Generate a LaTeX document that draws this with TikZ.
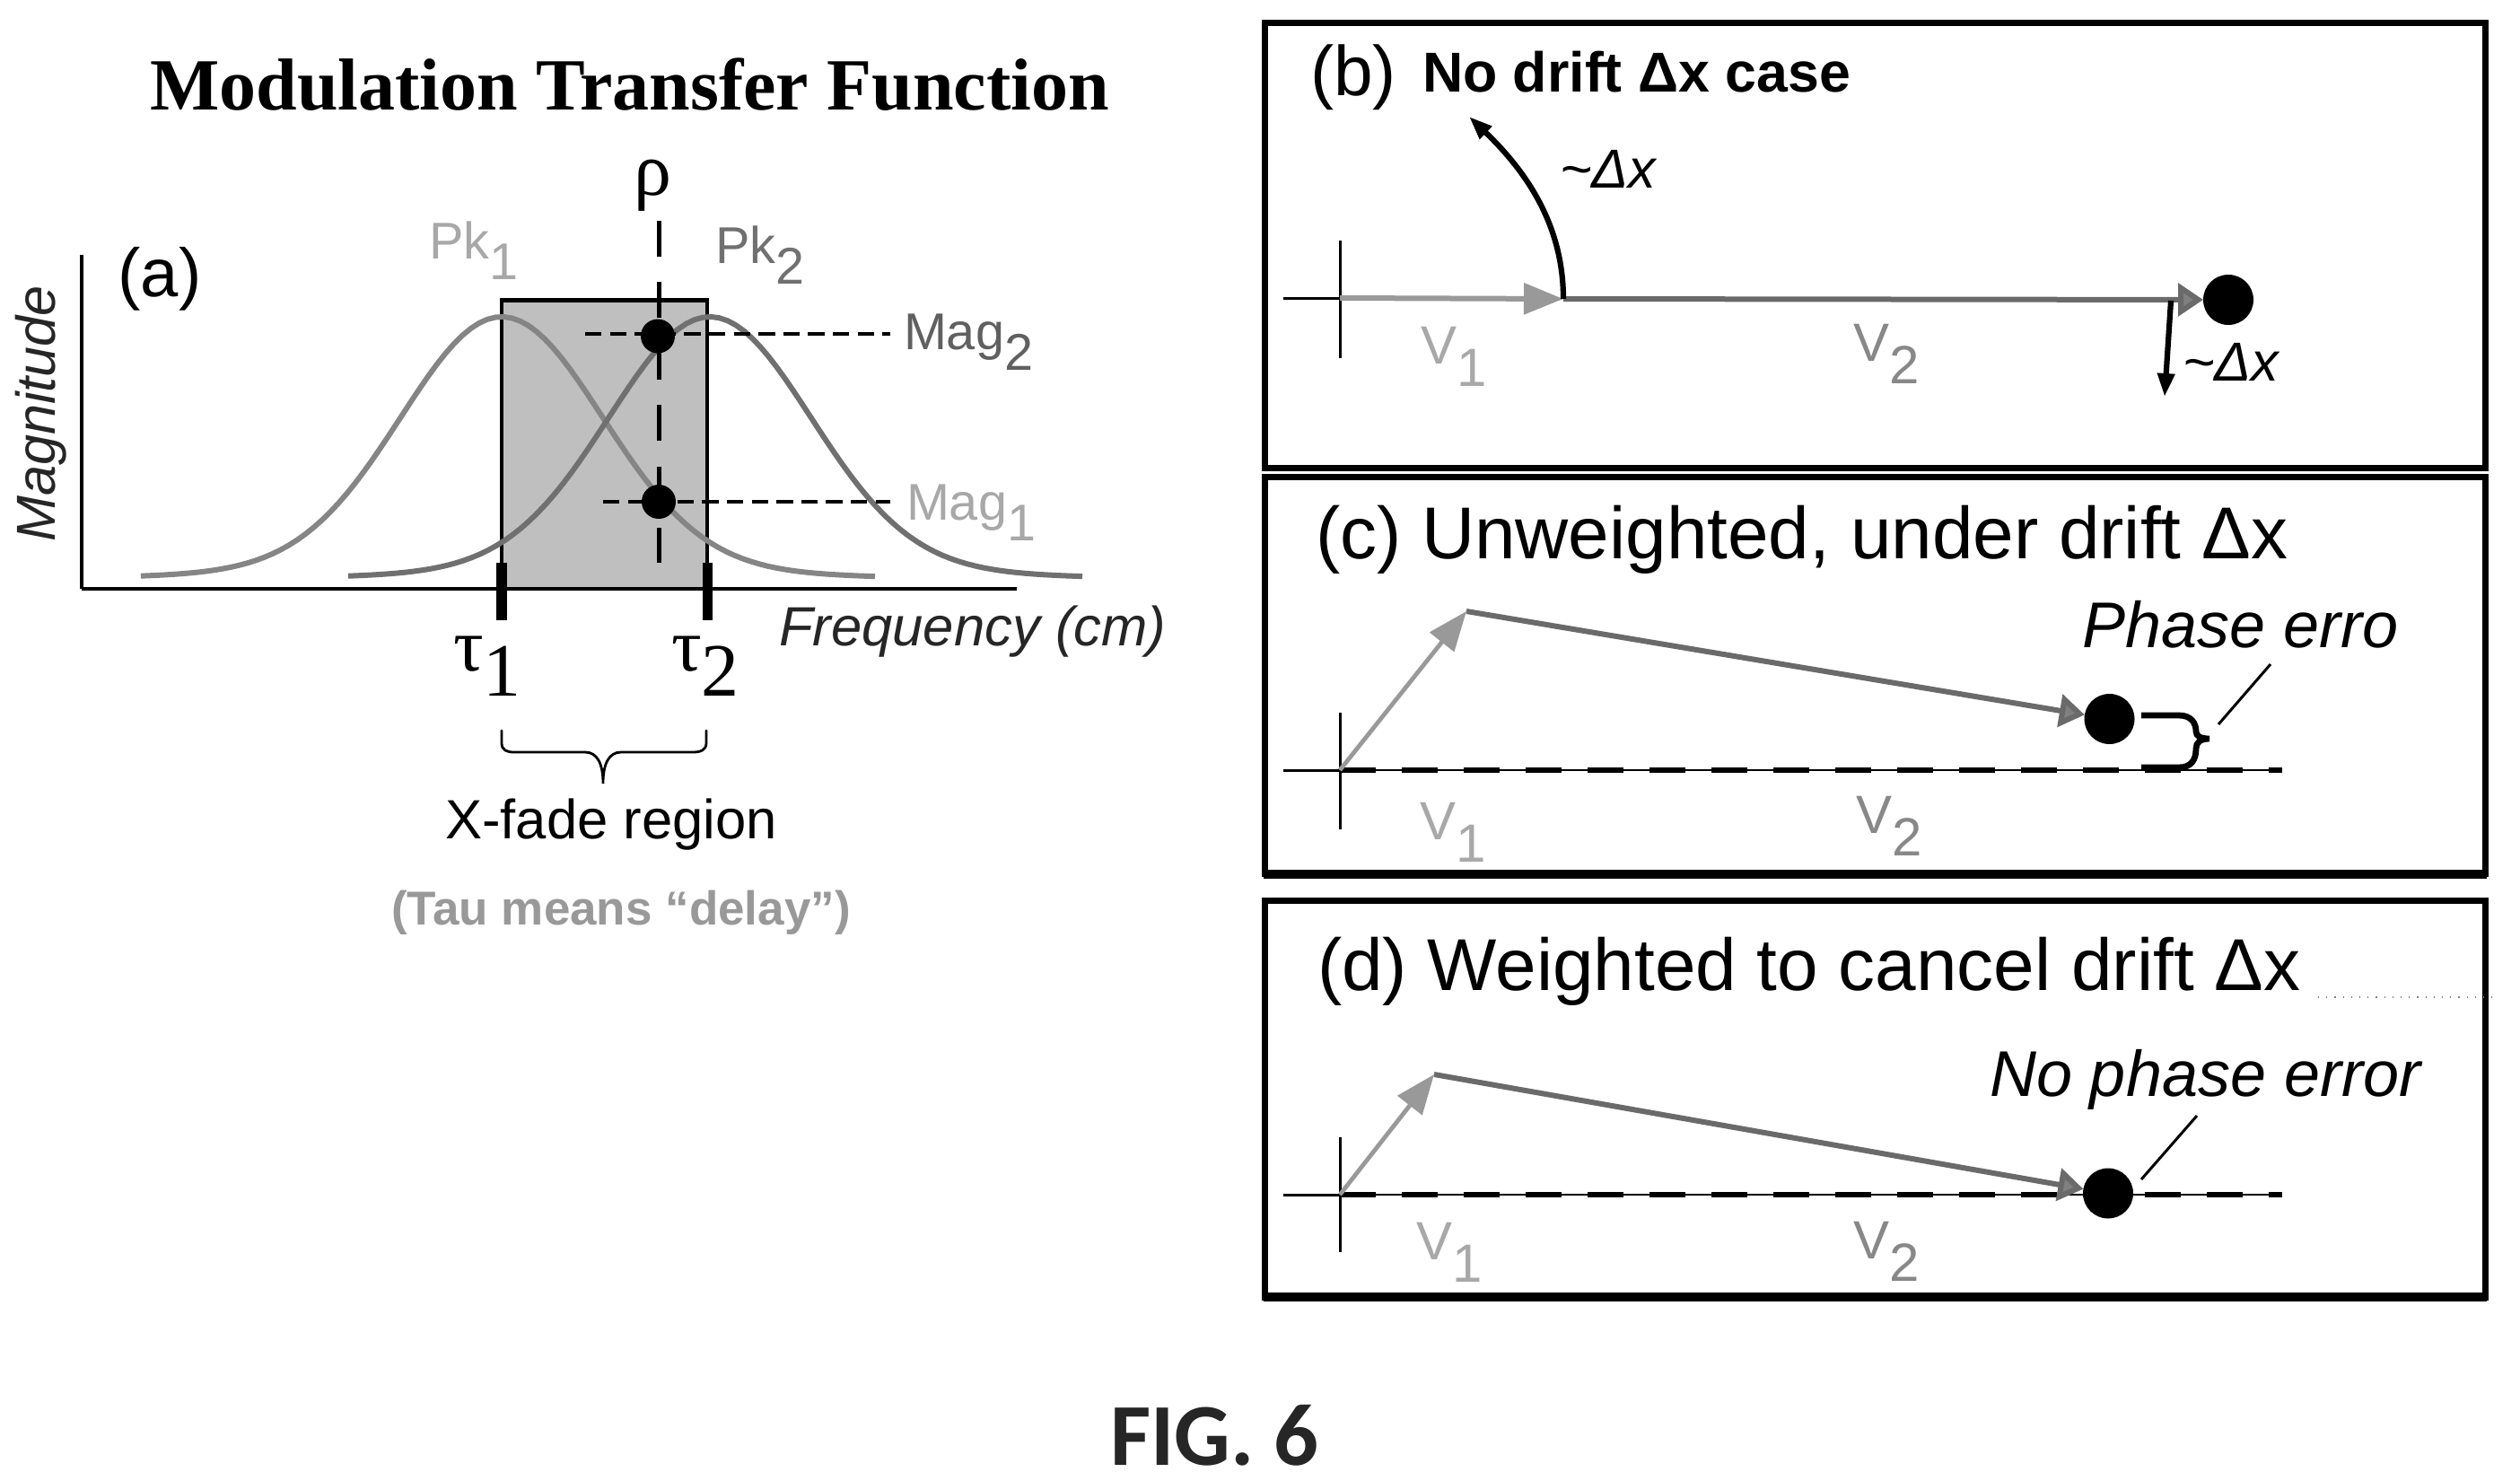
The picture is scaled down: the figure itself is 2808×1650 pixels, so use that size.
\documentclass[tikz,border=0pt]{standalone}
\usepackage{fontspec}
\setmainfont{Liberation Sans}
\newfontfamily\timesf{Liberation Serif}
\newfontfamily\calibf{Carlito}
\usetikzlibrary{arrows.meta}
\newcommand{\fsz}[1]{\fontsize{#1}{#1}\selectfont}
\newcommand{\dropped}[1]{\raisebox{-5.8pt}{#1}}
\newcommand{\droppedv}[1]{\raisebox{-6.4pt}{#1}}
\definecolor{gA}{HTML}{A8A8A8}
\definecolor{gB}{HTML}{707070}
\definecolor{gC}{HTML}{606060}
\definecolor{vOne}{HTML}{999999}
\definecolor{vTwo}{HTML}{6A6A6A}
\tikzset{
 lab/.style={inner sep=0pt,outer sep=0pt,anchor=base west},
 mid/.style={inner sep=0pt,outer sep=0pt,anchor=center},
 small/.style={lab,font=\fsz{14.4}},
 vee/.style={lab,font=\fsz{15},text=gA},
 veeb/.style={lab,font=\fsz{15},text=vTwo!80},
 panel/.style={draw=black,line width=1.75pt},
 panelfoot/.style={draw=black,line width=2.5pt},
 head/.style={lab,font=\fsz{20.47}},
 note/.style={lab,font=\itshape\fsz{18}},
 dx/.style={lab,font=\itshape\fsz{15.3}},
 dot/.style={circle,fill=black,inner sep=0pt,outer sep=0pt,minimum size=#1},
 thinblack/.style={draw=black,line width=.75pt},
 vecA/.style={draw=vOne,line width=1.5pt,-{Triangle[length=11pt,width=8.5pt,fill=vOne]}},
 vecAthin/.style={draw=vOne,line width=1.2pt,-{Triangle[length=11pt,width=8.5pt,fill=vOne]}},
 vecB/.style={draw=vTwo,line width=1.5pt,-{Triangle[length=7pt,width=9pt,fill=vTwo!85]}},
 bell/.style={draw=gB,line width=1.5pt,line join=round},
 hdash/.style={draw=black,line width=1pt,dash pattern=on 4.6pt off 2.3pt},
 base/.style={draw=black,line width=.3pt},
 bdash/.style={draw=black,line width=1.3pt,dash pattern=on 10pt off 7.25pt},
 blk/.style={draw=black,line width=1.55pt,-{Triangle[length=6.5pt,width=4.6pt]}},
}
\begin{document}
\begin{tikzpicture}[x=.25pt,y=-.25pt]
\useasboundingbox (0,0) rectangle (2808,1650);
% ---------- panel (a)
\node[lab,font=\timesf\bfseries\fsz{20.5}] (title) at (167,122) {Modulation Transfer Function};
\fill[fill=black!25] (559,334.5) rectangle (788,656);
\draw[draw=black,line width=1.1pt] (559,656) -- (559,334.5) -- (788,334.5) -- (788,656);
\draw[bell,draw=gB!85] plot[domain=-402:416,samples=90] ({559+\x},{645-292*(.95*exp(-(\x/100)*(\x/100)/2.5)+.05*exp(-(\x/100)*(\x/100)/10))});
\draw[bell] plot[domain=-403:415,samples=90] ({791+\x},{645-292*(.95*exp(-(\x/100)*(\x/100)/2.5)+.05*exp(-(\x/100)*(\x/100)/10))});
\coordinate (ytop) at (91,284);
\coordinate (org) at (91,656);
\coordinate (xend) at (1133,656);
\draw[draw=black,line width=.8pt] (ytop) -- (org);
\draw[draw=black,line width=1.2pt] (org) -- (xend);
\coordinate (tauA) at (559,627); \coordinate (tauAb) at (559,691);
\coordinate (tauB) at (788.5,627); \coordinate (tauBb) at (788.5,691);
\draw[line width=2.9pt] (tauA) -- (tauAb);
\draw[line width=2.9pt] (tauB) -- (tauBb);
\node[dot=9.5pt] (magBdot) at (733,374.5) {};
\node[dot=9.5pt] (magAdot) at (734,559) {};
\coordinate (rhoTop) at (734,246); \coordinate (rhoBot) at (734,627);
\draw[draw=black,line width=1.25pt,dash pattern=on 10pt off 7.1pt] (rhoTop) -- (rhoBot);
\coordinate (mBl) at (652,372); \coordinate (mBr) at (992,372);
\coordinate (mAl) at (672,559); \coordinate (mAr) at (992,559);
\draw[hdash] (mBl) -- (mBr);
\draw[hdash,line width=1.2pt] (mAl) -- (mAr);
\node[mid,font=\timesf\fsz{21}] (rho) at (727,207) {ρ};
\node[mid,font=\fsz{19}] (la) at (178,311) {(a)};
\node[mid,rotate=90,font=\itshape\fsz{15.3},text=black!85] (maglab) at (46,461) {Magnitude};
\node[small,text=gA] (pkA) at (478,288) {Pk\dropped{1}};
\node[small,text=gB] (pkB) at (797,293) {Pk\dropped{2}};
\node[small,text=gC] (magB) at (1007,389) {Mag\dropped{2}};
\node[small,text=gA] (magA) at (1010,579) {Mag\dropped{1}};
\node[lab,font=\itshape\fsz{15.4},text=black!85] (freq) at (868,719) {Frequency (cm)};
\node[lab,font=\timesf\fsz{21}] (tA) at (505,747) {τ\raisebox{-7pt}{1}};
\node[lab,font=\timesf\fsz{21}] (tB) at (748,747) {τ\raisebox{-7pt}{2}};
\draw[draw=black,line width=.7pt,line cap=round] (559,814) -- (559,828) .. controls (559,836) and (565,838) .. (573,838)
 -- (652,838) .. controls (665,838) and (672,850) .. (672,873)
 .. controls (672,850) and (679,838) .. (692,838) -- (772,838) .. controls (780,838) and (787,836) .. (787,828) -- (787,814);
\node[mid,font=\fsz{15.4}] (xfade) at (681,919) {X-fade region};
\node[mid,font=\bfseries\fsz{13.25},text=black!40] (taum) at (692,1017) {(Tau means “delay”)};
% ---------- panel (b)
\draw[panel] (1409.5,25) rectangle (2769,521);
\node[mid,font=\fsz{19.6}] (lb) at (1508,86) {(b)};
\node[lab,font=\bfseries\fsz{15.67}] (bh) at (1585,102) {No drift Δx case};
\coordinate (bO) at (1493,332);
\coordinate (bL) at (1430,332); \coordinate (bT) at (1493,268); \coordinate (bB) at (1493,399);
\draw[thinblack] (bL) -- (bO); \draw[thinblack] (bT) -- (bB);
\coordinate (bA) at (1742,333);
\node[dot=14pt] (bD) at (2483,334) {};
\draw[vecA] (bO) -- (bA);
\draw[vecB] (bA) -- (bD);
\coordinate (bC) at (1637,130);
\draw[blk] (bA) .. controls (1742,255) and (1705,195) .. (bC);
\coordinate (bS) at (2419,335); \coordinate (bE) at (2412,442);
\draw[blk] (bS) -- (bE);
\node[dx] (dxA) at (1738,209) {\textasciitilde Δx};
\node[dx] (dxB) at (2432,424) {\textasciitilde Δx};
\node[vee] (bv1) at (1583,405) {V\droppedv{1}};
\node[veeb] (bv2) at (2065,402) {V\droppedv{2}};
% ---------- panel (c)
\draw[panel] (1409.5,531.5) rectangle (2769,973.5);
\draw[panelfoot] (1408,973.5) -- (2771,973.5);
\node[head] (ch) at (1466,622) {(c) Unweighted, under drift Δx};
\coordinate (cO) at (1493,858);
\coordinate (cL) at (1430,858); \coordinate (cR) at (2543,858); \coordinate (cT) at (1493,794); \coordinate (cB) at (1493,924);
\draw[thinblack] (cT) -- (cB);
\draw[thinblack] (cL) -- (cO);
\draw[base] (cO) -- (cR);
\draw[bdash] (cO) -- (cR);
\coordinate (cA) at (1634,681);
\node[dot=14pt] (cD) at (2350.5,801) {};
\draw[vecAthin] (cO) -- (cA);
\draw[vecB] (cA) -- (cD);
\draw[draw=black,line width=1.7pt] (2386,797) -- (2428,797) .. controls (2442,797) and (2447,806) .. (2447,815)
 .. controls (2447,820) and (2452,823) .. (2462,823)
 .. controls (2452,823) and (2447,827) .. (2447,834) .. controls (2447,846) and (2442,855) .. (2428,855) -- (2386,855);
\node[note] (cn) at (2320,721) {Phase erro};
\coordinate (cla) at (2530,740); \coordinate (clb) at (2472,807);
\draw[thinblack] (cla) -- (clb);
\node[vee] (cv1) at (1582,935) {V\droppedv{1}};
\node[veeb] (cv2) at (2068,928) {V\droppedv{2}};
% ---------- panel (d)
\draw[panel] (1409.5,1003) rectangle (2769,1445);
\draw[panelfoot,line width=2.6pt] (1408,1445) -- (2771,1445);
\node[head] (dh) at (1468,1103) {(d) Weighted to cancel drift Δx};
\draw[draw=gray,line width=.3pt,dotted] (2583,1111) -- (2784,1111);
\coordinate (dO) at (1493,1331);
\coordinate (dL) at (1430,1331); \coordinate (dR) at (2543,1331); \coordinate (dT) at (1493,1267); \coordinate (dB) at (1493,1395);
\draw[thinblack] (dT) -- (dB);
\draw[thinblack] (dL) -- (dO);
\draw[base] (dO) -- (dR);
\draw[bdash] (dO) -- (dR);
\coordinate (dA) at (1598,1197);
\node[dot=14pt] (dD) at (2349,1329.5) {};
\draw[vecAthin] (dO) -- (dA);
\draw[vecB] (dA) -- (dD);
\node[note] (dn) at (2217,1221) {No phase error};
\coordinate (dla) at (2448,1243); \coordinate (dlb) at (2386,1314);
\draw[thinblack] (dla) -- (dlb);
\node[vee] (dv1) at (1578,1403) {V\droppedv{1}};
\node[veeb] (dv2) at (2065,1402) {V\droppedv{2}};
% ---------- caption
\node[lab,font=\calibf\bfseries\fsz{24.6},text=black!85] (fig) at (1237,1632) {FIG. 6};
\end{tikzpicture}
\end{document}
